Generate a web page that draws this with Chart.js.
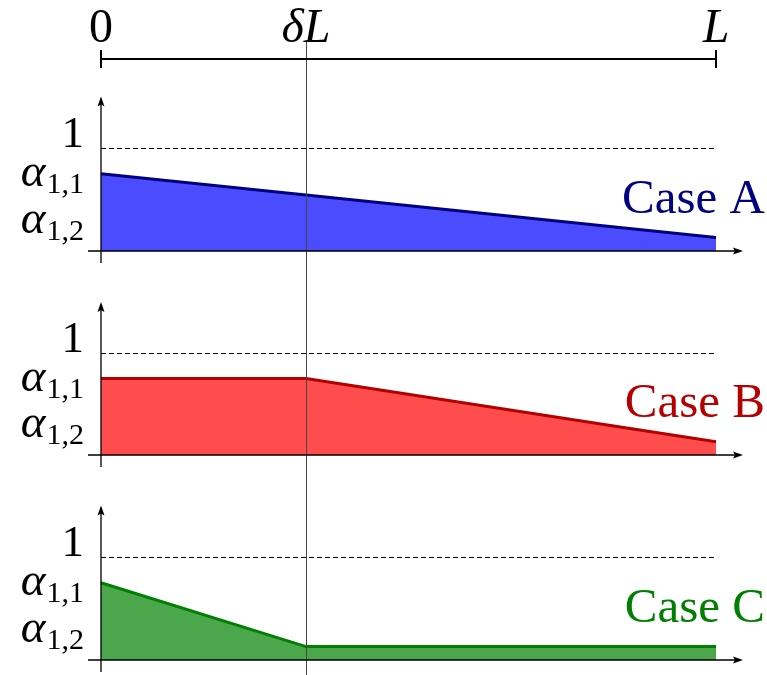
<!DOCTYPE html>
<html>
<head>
<meta charset="utf-8">
<script src="https://cdn.jsdelivr.net/npm/chart.js"></script>
<style>
  body { margin: 0; background: #fff; }
  .wrap { position: relative; width: 767px; height: 675px; }
  canvas { position: absolute; left: 0; }
</style>
</head>
<body>
<div class="wrap">
  <canvas id="panelA" width="767" height="265" style="top:0"></canvas>
  <canvas id="panelB" width="767" height="205" style="top:265px"></canvas>
  <canvas id="panelC" width="767" height="205" style="top:470px"></canvas>
</div>
<script>
// data (x in units of L, y in units of the dashed "1" level)
const delta = 1 / 3;
const alpha11 = 0.75;
const alpha12 = 0.13;

const caseNames = ['Case A', 'Case B', 'Case C'];
const caseAx = [0, 1];
const caseAy = [alpha11, alpha12];
const caseBx = [0, delta, 1];
const caseBy = [alpha11, alpha11, alpha12];
const caseCx = [0, delta, 1];
const caseCy = [alpha11, alpha12, alpha12];

const topTickValues = [0, delta, 1];
const topTickLabels = ['0', 'δL', 'L'];
const yTickValues = [1, alpha11, alpha12];
const yTickMain = ['1', 'α', 'α'];
const yTickSub = ['', '1,1', '1,2'];

const SERIF = '"Liberation Serif", serif';

function arrowHead(ctx, x, y, dir) {
  // dir: 'up' or 'right'
  ctx.beginPath();
  if (dir === 'up') {
    ctx.moveTo(x, y);
    ctx.lineTo(x - 3.5, y + 10);
    ctx.lineTo(x, y + 8);
    ctx.lineTo(x + 3.5, y + 10);
  } else {
    ctx.moveTo(x, y);
    ctx.lineTo(x - 10, y - 3.5);
    ctx.lineTo(x - 8, y);
    ctx.lineTo(x - 10, y + 3.5);
  }
  ctx.closePath();
  ctx.fill();
}

function makePlugin(caseName, caseColor, withTopBar) {
  return {
    id: 'decor',
    beforeDatasetsDraw(chart) {
      const ctx = chart.ctx, xs = chart.scales.x, ys = chart.scales.y;
      ctx.save();
      // dashed level 1
      ctx.strokeStyle = '#000';
      ctx.lineWidth = 1;
      ctx.setLineDash([5, 3]);
      ctx.beginPath();
      ctx.moveTo(xs.getPixelForValue(0), ys.getPixelForValue(1) + 0.5);
      ctx.lineTo(xs.getPixelForValue(1), ys.getPixelForValue(1) + 0.5);
      ctx.stroke();
      ctx.restore();
    },
    afterDatasetsDraw(chart) {
      const ctx = chart.ctx, xs = chart.scales.x, ys = chart.scales.y;
      const x0 = xs.getPixelForValue(0), x1 = xs.getPixelForValue(1);
      const y0 = ys.getPixelForValue(0);
      ctx.save();

      // vertical marker at delta L
      const xd = Math.round(xs.getPixelForValue(delta)) + 0.5;
      ctx.strokeStyle = '#444';
      ctx.lineWidth = 1;
      ctx.beginPath();
      ctx.moveTo(xd, withTopBar ? 40 : 0);
      ctx.lineTo(xd, chart.height);
      ctx.stroke();

      // axes
      ctx.strokeStyle = '#000';
      ctx.fillStyle = '#000';
      ctx.lineWidth = 1.3;
      ctx.beginPath();
      ctx.moveTo(x0 - 13, y0);
      ctx.lineTo(x1 + 20, y0);
      ctx.moveTo(x0, y0 + 12);
      ctx.lineTo(x0, ys.getPixelForValue(1.5) + 6);
      ctx.stroke();
      arrowHead(ctx, x1 + 27, y0, 'right');
      arrowHead(ctx, x0, ys.getPixelForValue(1.5), 'up');

      // y tick labels
      ctx.textBaseline = 'alphabetic';
      const right = 84;
      yTickValues.forEach((v, i) => {
        const py = ys.getPixelForValue(v);
        if (yTickSub[i] === '') {
          ctx.font = '45px ' + SERIF;
          ctx.textAlign = 'right';
          ctx.fillText(yTickMain[i], right, py - 1);
        } else {
          const base = i === 1 ? py + 12 : py - 5;
          ctx.font = '30px ' + SERIF;
          const wSub = ctx.measureText(yTickSub[i]).width;
          ctx.textAlign = 'right';
          ctx.fillText(yTickSub[i], right, base + 7);
          ctx.font = 'italic 47px ' + SERIF;
          ctx.fillText(yTickMain[i], right - wSub - 1, base);
        }
      });

      // case label
      ctx.fillStyle = caseColor;
      ctx.font = '49px ' + SERIF;
      ctx.textAlign = 'right';
      ctx.fillText(caseName, 765, y0 - 38);

      // top bar with 0, deltaL, L
      if (withTopBar) {
        ctx.fillStyle = '#000';
        ctx.strokeStyle = '#000';
        ctx.lineWidth = 2;
        ctx.beginPath();
        ctx.moveTo(x0, 59);
        ctx.lineTo(x1, 59);
        ctx.moveTo(x0, 50);
        ctx.lineTo(x0, 68);
        ctx.moveTo(x1, 50);
        ctx.lineTo(x1, 68);
        ctx.stroke();
        ctx.textAlign = 'center';
        topTickValues.forEach((v, i) => {
          ctx.font = (i === 0 ? '' : 'italic ') + '48px ' + SERIF;
          ctx.fillText(topTickLabels[i], xs.getPixelForValue(v), 42);
        });
      }
      ctx.restore();
    }
  };
}

function buildPanel(id, xsData, ysData, fillColor, lineColor, caseName, padTop, padBottom, withTopBar) {
  const points = xsData.map((x, i) => ({ x: x, y: ysData[i] }));
  return new Chart(document.getElementById(id), {
    type: 'line',
    data: {
      datasets: [{
        label: caseName,
        data: points,
        borderColor: lineColor,
        backgroundColor: fillColor,
        borderWidth: 3,
        pointRadius: 0,
        tension: 0,
        fill: 'origin',
        clip: false
      }]
    },
    options: {
      responsive: false,
      animation: false,
      devicePixelRatio: 1,
      layout: { padding: { left: 101, right: 51, top: padTop, bottom: padBottom } },
      plugins: { legend: { display: false }, tooltip: { enabled: false } },
      scales: {
        x: { type: 'linear', min: 0, max: 1, display: false },
        y: { type: 'linear', min: 0, max: 1, display: false }
      }
    },
    plugins: [makePlugin(caseName, lineColor, withTopBar)]
  });
}

buildPanel('panelA', caseAx, caseAy, 'rgba(0,0,255,0.7)', '#000080', caseNames[0], 148, 14, true);
buildPanel('panelB', caseBx, caseBy, 'rgba(255,0,0,0.7)', '#b30000', caseNames[1], 88, 15, false);
buildPanel('panelC', caseCx, caseCy, 'rgba(0,128,0,0.7)', '#008000', caseNames[2], 87, 15, false);
</script>
</body>
</html>
